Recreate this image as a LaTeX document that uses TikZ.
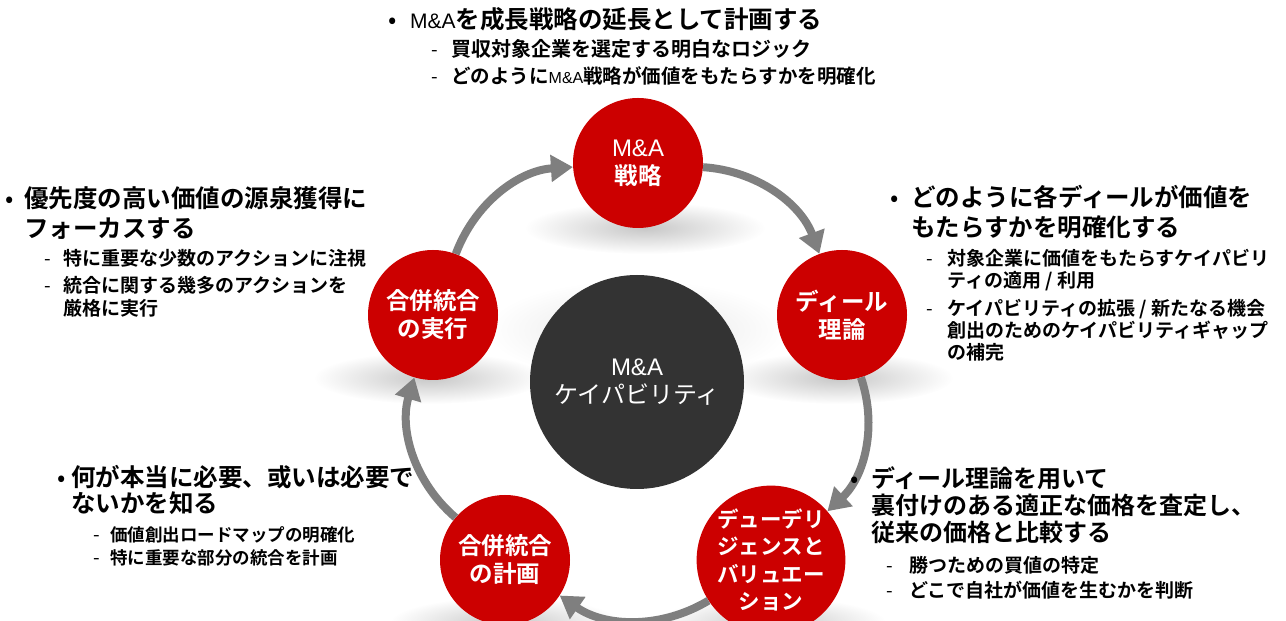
\documentclass[tikz,border=0pt]{standalone}
\usepackage{fontspec}
\setmainfont{Noto Sans CJK JP}[BoldFont={Noto Sans CJK JP Bold}]
\newfontfamily\lat{Liberation Sans}
\usetikzlibrary{arrows.meta,fadings}
\definecolor{mared}{HTML}{CC0000}
\definecolor{madark}{HTML}{333333}
\definecolor{magray}{HTML}{7F7F7F}
\tikzfading[name=softfade, inner color=transparent!0, outer color=transparent!100]
\tikzset{
  stage/.style={circle, fill=mared, minimum size=130pt, inner sep=0pt, text=white, align=center,
    font=\bfseries\fontsize{23.5}{28}\selectfont},
  core/.style={circle, fill=madark, minimum size=214pt, inner sep=0pt, text=white, align=center,
    font=\fontsize{24}{28}\selectfont},
  flow/.style={draw=magray, line width=8pt, -{Triangle[width=26pt,length=22pt]}, bend left=33, looseness=0.95},
  head/.style={anchor=base west, inner sep=0pt, align=left, font=\bfseries\fontsize{24.5}{30}\selectfont},
  sub/.style={anchor=base west, inner sep=0pt, align=left, font=\bfseries\fontsize{19}{22.5}\selectfont},
  dotmark/.style={anchor=base, inner sep=0pt, font=\fontsize{24.5}{30}\selectfont},
  hyph/.style={anchor=base, inner sep=0pt, font=\fontsize{19}{22}\selectfont},
  glow/.style={fill=black, fill opacity=0.22, path fading=softfade}
}
\begin{document}
\begin{tikzpicture}[x=1pt,y=1pt]
\useasboundingbox (0,0) rectangle (1286,621);
% soft shadows
\fill[glow, fill opacity=0.10] (637,291) ellipse [x radius=150, y radius=50];
\fill[glow] (645,393) ellipse [x radius=120, y radius=26];
\fill[glow] (838,243) ellipse [x radius=115, y radius=26];
\fill[glow] (429,243) ellipse [x radius=115, y radius=26];
\fill[glow] (771,-2) ellipse [x radius=115, y radius=26];
\fill[glow] (505,-2) ellipse [x radius=115, y radius=26];

% circles
\node[core] (cap) at (637,239) {{\lat M\&A}\\ケイパビリティ};
\node[stage] (strat) at (638,458) {{\lat\mdseries\fontsize{24}{28}\selectfont M\&A}\\戦略};
\node[stage] (deal) at (842,306) {ディール\\理論};
\node[stage, font=\bfseries\fontsize{21.5}{27.5}\selectfont] (dd) at (771,61) {デューデリ\\ジェンスと\\バリュエー\\ション};
\node[stage] (plan) at (505,61) {合併統合\\の計画};
\node[stage] (exec) at (433,306) {合併統合\\の実行};

% cycle arrows
\draw[flow] (exec) to (strat);
\draw[flow] (strat) to (deal);
\draw[flow] (deal) to (dd);
\draw[flow] (dd) to (plan);
\draw[flow] (plan) to (exec);

% top block
\node[dotmark] (tb) at (393,592.7) {•};
\node[head] (th) at (410,592.7) {{\lat\mdseries\fontsize{21}{30}\selectfont M\&A}を成長戦略の延長として計画する};
\node[hyph] (td1) at (435,564.4) {-};
\node[sub, font=\bfseries\fontsize{20}{23}\selectfont] (ts1) at (451,564.4) {買収対象企業を選定する明白なロジック};
\node[hyph] (td2) at (435,537.4) {-};
\node[sub, font=\bfseries\fontsize{19.5}{23}\selectfont] (ts2) at (451,537.4) {どのように{\lat\mdseries\fontsize{16}{23}\selectfont M\&A}戦略が価値をもたらすかを明確化};

% left block (multi-line nodes are placed at the baseline of their last line)
\node[dotmark] (lb) at (10,413.7) {•};
\node[head, font=\bfseries\fontsize{24.5}{29.5}\selectfont] (lh) at (24,383.7) {優先度の高い価値の源泉獲得に\\フォーカスする};
\node[hyph] (ld1) at (48,355.8) {-};
\node[sub] (ls1) at (63,355.8) {特に重要な少数のアクションに注視};
\node[hyph] (ld2) at (48,328.8) {-};
\node[sub, font=\bfseries\fontsize{19}{23}\selectfont] (ls2) at (63,305.8) {統合に関する幾多のアクションを\\厳格に実行};

% right block
\node[dotmark] (rb) at (895,414.7) {•};
\node[head] (rh) at (911,384.7) {どのように各ディールが価値を\\もたらすかを明確化する};
\node[hyph] (rd1) at (930,355.8) {-};
\node[sub, font=\bfseries\fontsize{19}{22}\selectfont] (rs1) at (947,333.8) {対象企業に価値をもたらすケイパビリ\\ティの適用 / 利用};
\node[hyph] (rd2) at (930,305.8) {-};
\node[sub, font=\bfseries\fontsize{19}{22}\selectfont] (rs2) at (947,261.8) {ケイパビリティの拡張 / 新たなる機会\\創出のためのケイパビリティギャップ\\の補完};

% bottom-left block
\node[dotmark] (blb) at (62,134.7) {•};
\node[head, font=\bfseries\fontsize{24.5}{26.5}\selectfont] (blh) at (71,108.2) {何が本当に必要、或いは必要で\\ないかを知る};
\node[hyph] (bld1) at (97,79.35) {-};
\node[sub, font=\bfseries\fontsize{17.5}{23}\selectfont] (bls1) at (110,79.35) {価値創出ロードマップの明確化};
\node[hyph] (bld2) at (97,56.35) {-};
\node[sub, font=\bfseries\fontsize{17.5}{23}\selectfont] (bls2) at (110,56.35) {特に重要な部分の統合を計画};

% bottom-right block
\node[dotmark] (brb) at (855,133.9) {•};
\node[head, font=\bfseries\fontsize{24}{27}\selectfont] (brh) at (871,79.9) {ディール理論を用いて\\裏付けのある適正な価格を査定し、\\従来の価格と比較する};
\node[hyph] (brd1) at (890,48.8) {-};
\node[sub] (brs1) at (909,48.8) {勝つための買値の特定};
\node[hyph] (brd2) at (890,23.8) {-};
\node[sub] (brs2) at (909,23.8) {どこで自社が価値を生むかを判断};
\end{tikzpicture}
\end{document}
